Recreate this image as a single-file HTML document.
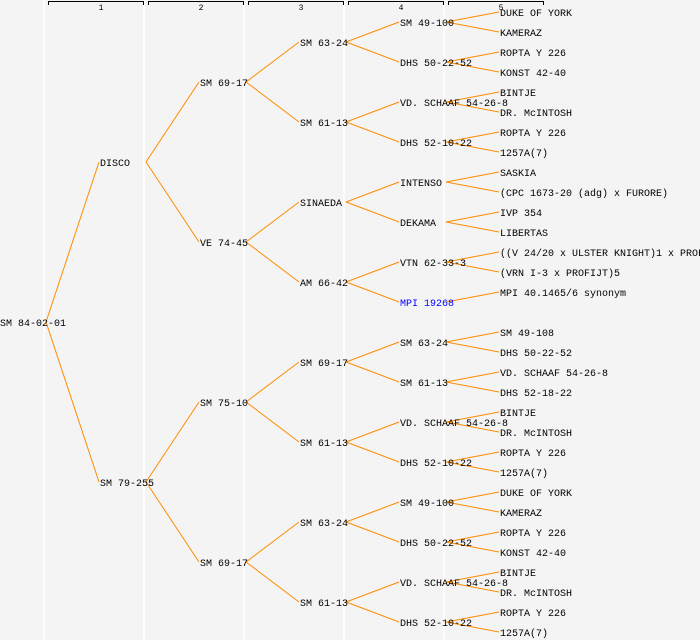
<!DOCTYPE html>
<html><head><style>
html,body{margin:0;padding:0;background:#f4f4f4}
svg{display:block}
text{font-family:"Liberation Mono","DejaVu Sans Mono",monospace;font-size:10px;fill:#000}
.h{font-size:8px;text-anchor:middle}
</style></head><body>
<svg width="700" height="640" xmlns="http://www.w3.org/2000/svg">
<rect width="700" height="640" fill="#f4f4f4"/>
<g stroke="#fff" stroke-width="1.5">
<line x1="44" y1="0" x2="44" y2="640"/><line x1="144" y1="0" x2="144" y2="640"/><line x1="244" y1="0" x2="244" y2="640"/><line x1="344" y1="0" x2="344" y2="640"/><line x1="444" y1="0" x2="444" y2="640"/>
</g>
<g stroke="#000" fill="none" stroke-width="1">
<path d="M48.5 5V1.5H143.5V5"/><path d="M148.5 5V1.5H243.5V5"/><path d="M248.5 5V1.5H343.5V5"/><path d="M348.5 5V1.5H443.5V5"/><path d="M448.5 5V1.5H543.5V5"/>
</g>
<text class="h" x="101" y="10">1</text><text class="h" x="201" y="10">2</text><text class="h" x="301" y="10">3</text><text class="h" x="401" y="10">4</text><text class="h" x="501" y="10">5</text>
<g stroke="#ff8c00" stroke-width="1" fill="none">
<line x1="46" y1="322" x2="99" y2="162"/><line x1="46" y1="322" x2="99" y2="482"/>
<line x1="146" y1="162" x2="199" y2="82"/><line x1="146" y1="162" x2="199" y2="242"/>
<line x1="146" y1="482" x2="199" y2="402"/><line x1="146" y1="482" x2="199" y2="562"/>
<line x1="246" y1="82" x2="299" y2="42"/><line x1="246" y1="82" x2="299" y2="122"/>
<line x1="246" y1="242" x2="299" y2="202"/><line x1="246" y1="242" x2="299" y2="282"/>
<line x1="246" y1="402" x2="299" y2="362"/><line x1="246" y1="402" x2="299" y2="442"/>
<line x1="246" y1="562" x2="299" y2="522"/><line x1="246" y1="562" x2="299" y2="602"/>
<line x1="346" y1="42" x2="399" y2="22"/><line x1="346" y1="42" x2="399" y2="62"/>
<line x1="346" y1="122" x2="399" y2="102"/><line x1="346" y1="122" x2="399" y2="142"/>
<line x1="346" y1="202" x2="399" y2="182"/><line x1="346" y1="202" x2="399" y2="222"/>
<line x1="346" y1="282" x2="399" y2="262"/><line x1="346" y1="282" x2="399" y2="302"/>
<line x1="346" y1="362" x2="399" y2="342"/><line x1="346" y1="362" x2="399" y2="382"/>
<line x1="346" y1="442" x2="399" y2="422"/><line x1="346" y1="442" x2="399" y2="462"/>
<line x1="346" y1="522" x2="399" y2="502"/><line x1="346" y1="522" x2="399" y2="542"/>
<line x1="346" y1="602" x2="399" y2="582"/><line x1="346" y1="602" x2="399" y2="622"/>
<line x1="446" y1="22" x2="499" y2="12"/><line x1="446" y1="22" x2="499" y2="32"/>
<line x1="446" y1="62" x2="499" y2="52"/><line x1="446" y1="62" x2="499" y2="72"/>
<line x1="446" y1="102" x2="499" y2="92"/><line x1="446" y1="102" x2="499" y2="112"/>
<line x1="446" y1="142" x2="499" y2="132"/><line x1="446" y1="142" x2="499" y2="152"/>
<line x1="446" y1="182" x2="499" y2="172"/><line x1="446" y1="182" x2="499" y2="192"/>
<line x1="446" y1="222" x2="499" y2="212"/><line x1="446" y1="222" x2="499" y2="232"/>
<line x1="446" y1="262" x2="499" y2="252"/><line x1="446" y1="262" x2="499" y2="272"/>
<line x1="446" y1="302" x2="499" y2="292"/>
<line x1="446" y1="342" x2="499" y2="332"/><line x1="446" y1="342" x2="499" y2="352"/>
<line x1="446" y1="382" x2="499" y2="372"/><line x1="446" y1="382" x2="499" y2="392"/>
<line x1="446" y1="422" x2="499" y2="412"/><line x1="446" y1="422" x2="499" y2="432"/>
<line x1="446" y1="462" x2="499" y2="452"/><line x1="446" y1="462" x2="499" y2="472"/>
<line x1="446" y1="502" x2="499" y2="492"/><line x1="446" y1="502" x2="499" y2="512"/>
<line x1="446" y1="542" x2="499" y2="532"/><line x1="446" y1="542" x2="499" y2="552"/>
<line x1="446" y1="582" x2="499" y2="572"/><line x1="446" y1="582" x2="499" y2="592"/>
<line x1="446" y1="622" x2="499" y2="612"/><line x1="446" y1="622" x2="499" y2="632"/>
</g>
<text x="0" y="326">SM 84-02-01</text>
<text x="100" y="166">DISCO</text><text x="100" y="486">SM 79-255</text>
<text x="200" y="86">SM 69-17</text><text x="200" y="246">VE 74-45</text><text x="200" y="406">SM 75-10</text><text x="200" y="566">SM 69-17</text>
<text x="300" y="46">SM 63-24</text><text x="300" y="126">SM 61-13</text><text x="300" y="206">SINAEDA</text><text x="300" y="286">AM 66-42</text>
<text x="300" y="366">SM 69-17</text><text x="300" y="446">SM 61-13</text><text x="300" y="526">SM 63-24</text><text x="300" y="606">SM 61-13</text>
<text x="400" y="26">SM 49-100</text><text x="400" y="66">DHS 50-22-52</text><text x="400" y="106">VD. SCHAAF 54-26-8</text><text x="400" y="146">DHS 52-10-22</text>
<text x="400" y="186">INTENSO</text><text x="400" y="226">DEKAMA</text><text x="400" y="266">VTN 62-33-3</text><text x="400" y="306" style="fill:#0000ff">MPI 19268</text>
<text x="400" y="346">SM 63-24</text><text x="400" y="386">SM 61-13</text><text x="400" y="426">VD. SCHAAF 54-26-8</text><text x="400" y="466">DHS 52-10-22</text>
<text x="400" y="506">SM 49-100</text><text x="400" y="546">DHS 50-22-52</text><text x="400" y="586">VD. SCHAAF 54-26-8</text><text x="400" y="626">DHS 52-10-22</text>
<text x="500" y="16">DUKE OF YORK</text><text x="500" y="36">KAMERAZ</text><text x="500" y="56">ROPTA Y 226</text><text x="500" y="76">KONST 42-40</text>
<text x="500" y="96">BINTJE</text><text x="500" y="116">DR. McINTOSH</text><text x="500" y="136">ROPTA Y 226</text><text x="500" y="156">1257A(7)</text>
<text x="500" y="176">SASKIA</text><text x="500" y="196">(CPC 1673-20 (adg) x FURORE)</text><text x="500" y="216">IVP 354</text><text x="500" y="236">LIBERTAS</text>
<text x="500" y="256">((V 24/20 x ULSTER KNIGHT)1 x PROFIJT)</text><text x="500" y="276">(VRN I-3 x PROFIJT)5</text><text x="500" y="296">MPI 40.1465/6 synonym</text>
<text x="500" y="336">SM 49-108</text><text x="500" y="356">DHS 50-22-52</text><text x="500" y="376">VD. SCHAAF 54-26-8</text><text x="500" y="396">DHS 52-18-22</text>
<text x="500" y="416">BINTJE</text><text x="500" y="436">DR. McINTOSH</text><text x="500" y="456">ROPTA Y 226</text><text x="500" y="476">1257A(7)</text>
<text x="500" y="496">DUKE OF YORK</text><text x="500" y="516">KAMERAZ</text><text x="500" y="536">ROPTA Y 226</text><text x="500" y="556">KONST 42-40</text>
<text x="500" y="576">BINTJE</text><text x="500" y="596">DR. McINTOSH</text><text x="500" y="616">ROPTA Y 226</text><text x="500" y="636">1257A(7)</text>
</svg>
</body></html>
